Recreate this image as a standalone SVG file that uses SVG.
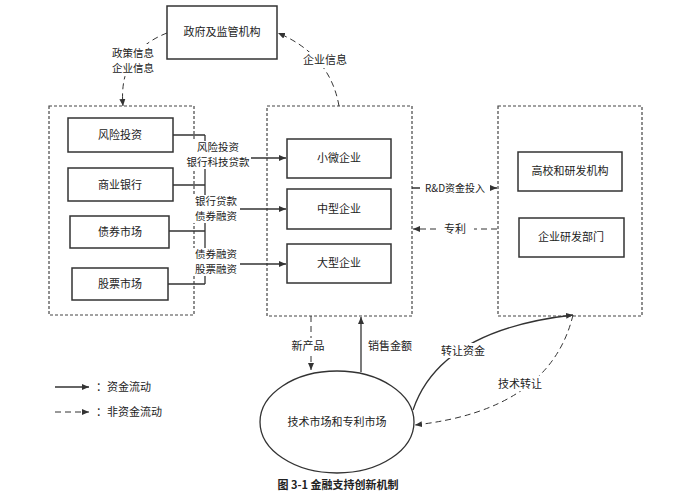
<svg xmlns="http://www.w3.org/2000/svg" width="679" height="495" viewBox="0 0 679 495">
<style>
text{font-family:"Noto Sans CJK SC","Liberation Sans",sans-serif;font-size:11px;fill:#222;text-anchor:middle}
.sm{font-size:10.5px}
.b{fill:#fff;stroke:#333;stroke-width:1.5}
.g{fill:none;stroke:#444;stroke-width:1.2;stroke-dasharray:3,2}
.s{fill:none;stroke:#333;stroke-width:1.3}
.d{fill:none;stroke:#333;stroke-width:1;stroke-dasharray:6,4}
</style>
<defs><marker id="a" markerWidth="8" markerHeight="8" refX="7" refY="4" orient="auto" markerUnits="userSpaceOnUse"><path d="M0,1 L7,4 L0,7 z" fill="#333"/></marker></defs>
<rect width="679" height="495" fill="#fff"/>
<g id="gov"><rect class="b" x="167" y="6" width="110" height="53"/><text x="222" y="36">政府及监管机构</text></g>
<g id="finGroup"><rect class="g" x="49" y="106" width="145" height="209"/></g>
<g id="vc"><rect class="b" x="68" y="118" width="105" height="34"/><text x="120" y="139">风险投资</text></g>
<g id="bank"><rect class="b" x="68" y="168" width="105" height="33"/><text x="120" y="189">商业银行</text></g>
<g id="bond"><rect class="b" x="70" y="216" width="99" height="32"/><text x="120" y="236">债券市场</text></g>
<g id="stock"><rect class="b" x="72" y="268" width="96" height="32"/><text x="120" y="288">股票市场</text></g>
<g id="entGroup"><rect class="g" x="267" y="106" width="145" height="210"/></g>
<g id="small"><rect class="b" x="287" y="139" width="104" height="39"/><text x="339" y="162">小微企业</text></g>
<g id="mid"><rect class="b" x="287" y="189" width="104" height="40"/><text x="339" y="213">中型企业</text></g>
<g id="large"><rect class="b" x="287" y="244" width="104" height="39"/><text x="339" y="267">大型企业</text></g>
<g id="rdGroup"><rect class="g" x="498" y="106" width="144" height="210"/></g>
<g id="univ"><rect class="b" x="518" y="152" width="104" height="39"/><text x="570" y="175">高校和研发机构</text></g>
<g id="entRD"><rect class="b" x="519" y="218" width="105" height="39"/><text x="571" y="241">企业研发部门</text></g>
<g id="market"><ellipse cx="337" cy="422" rx="77" ry="51" fill="#fff" stroke="#333" stroke-width="1.3"/><text x="337" y="426">技术市场和专利市场</text></g>
<g id="connectors">
<path class="s" d="M173,135 H205 M173,185 H205 M169,231 H205 M168,284 H205 M205,135 V284"/>
<rect x="190" y="141" width="60" height="28" fill="#fff"/>
<rect x="193" y="195" width="46" height="28" fill="#fff"/>
<rect x="193" y="248" width="46" height="28" fill="#fff"/>
<text class="sm" x="218" y="151">风险投资</text><text class="sm" x="218" y="166">银行科技贷款</text>
<path class="s" d="M251,158 H286" marker-end="url(#a)"/>
<text class="sm" x="216" y="205">银行贷款</text><text class="sm" x="216" y="220">债券融资</text>
<path class="s" d="M240,209 H286" marker-end="url(#a)"/>
<text class="sm" x="216" y="258">债券融资</text><text class="sm" x="216" y="273">股票融资</text>
<path class="s" d="M240,264 H286" marker-end="url(#a)"/>
<path class="s" d="M412,188 H420 M490,188 H497" marker-end="url(#a)"/>
<text x="455" y="192" style="font-size:10px">R&amp;D资金投入</text>
<path class="d" d="M497,229 H474 M436,229 H413" marker-end="url(#a)"/>
<text x="455" y="233">专利</text>
<path class="d" d="M167,33 Q118,52 123,106" marker-end="url(#a)"/>
<rect x="105" y="44" width="50" height="32" fill="#fff"/>
<text class="sm" x="133" y="57">政策信息</text><text class="sm" x="133" y="72">企业信息</text>
<path class="d" d="M339,106 Q330,55 278,33" marker-end="url(#a)"/>
<rect x="300" y="52" width="50" height="16" fill="#fff"/>
<text x="325" y="64">企业信息</text>
<path class="d" d="M311,316 V370" marker-end="url(#a)"/>
<path class="s" d="M361,372 V317" marker-end="url(#a)"/>
<rect x="291" y="338" width="34" height="14" fill="#fff"/>
<text x="308" y="350">新产品</text><text x="390" y="350">销售金额</text>
<path class="s" d="M413,410 Q440,330 573,315" marker-end="url(#a)"/>
<rect x="440" y="343" width="46" height="15" fill="#fff"/>
<text x="463" y="355">转让资金</text>
<path class="d" d="M573,315 Q550,410 415,425" marker-end="url(#a)"/>
<rect x="497" y="376" width="46" height="15" fill="#fff"/>
<text x="520" y="388">技术转让</text>
</g>
<g id="legend">
<path class="s" d="M55,387 H89" marker-end="url(#a)"/>
<text x="96" y="391" style="text-anchor:start">：资金流动</text>
<path class="d" d="M55,412 H89" marker-end="url(#a)"/>
<text x="96" y="416" style="text-anchor:start">：非资金流动</text>
</g>
<text x="338" y="489" style="font-weight:bold">图 3-1 金融支持创新机制</text>
</svg>
